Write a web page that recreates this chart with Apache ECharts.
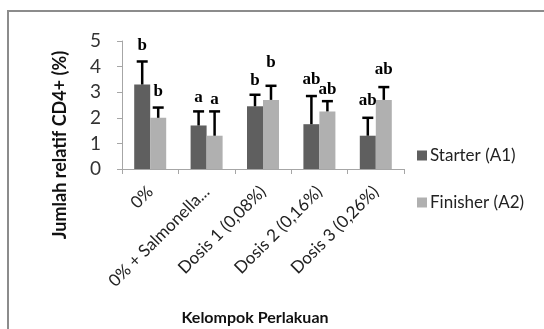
<!DOCTYPE html>
<html>
<head>
<meta charset="utf-8">
<script src="https://cdn.jsdelivr.net/npm/echarts@6/dist/echarts.min.js"></script>
<style>
  html, body { margin: 0; padding: 0; background: #fff; }
  #chart { width: 544px; height: 329px; }
</style>
</head>
<body>
<div id="chart"></div>
<script>
// Treatment groups on the x axis
const categories = ['0%', '0% + Salmonella...', 'Dosis 1 (0,08%)', 'Dosis 2 (0,16%)', 'Dosis 3 (0,26%)'];

// Relative CD4+ counts (%) and their standard deviations
const starterValues = [3.3, 1.7, 2.45, 1.75, 1.3];
const starterErrors = [0.9, 0.55, 0.45, 1.1, 0.7];
const finisherValues = [2.0, 1.3, 2.7, 2.25, 2.7];
const finisherErrors = [0.4, 0.95, 0.55, 0.4, 0.5];

// Significance letters above each bar
const starterLetters = ['b', 'a', 'b', 'ab', 'ab'];
const finisherLetters = ['b', 'a', 'b', 'ab', 'ab'];

// Y axis ticks
const yTicks = [0, 1, 2, 3, 4, 5];

// Pixel lift of each letter above its whisker cap
const starterLift = [7, 5, 6, 8, 9];
const finisherLift = [7, 3, 15, 3, 9];

const BAR_W = 16;
const DARK = '#5f5f5f';
const LIGHT = '#b0b0b0';
const FONT = 'Lato, "Open Sans", sans-serif';

function errorSeries(values, errors, letters, lift, side) {
  return {
    type: 'custom',
    z: 5,
    data: values.map((v, i) => [i, v, errors[i]]),
    renderItem: function (params, api) {
      const i = api.value(0);
      const base = api.coord([i, api.value(1)]);
      const top = api.coord([i, api.value(1) + api.value(2)]);
      const x = base[0] + side * BAR_W / 2;
      const half = 5.5;
      return {
        type: 'group',
        children: [
          { type: 'line', shape: { x1: x, y1: base[1], x2: x, y2: top[1] },
            style: { stroke: '#000', lineWidth: 2.5 } },
          { type: 'line', shape: { x1: x - half, y1: top[1], x2: x + half, y2: top[1] },
            style: { stroke: '#000', lineWidth: 2.5 } },
          { type: 'text', x: x, y: top[1] - lift[params.dataIndex],
            style: { text: letters[params.dataIndex], fill: '#000',
              font: 'bold 17px "Liberation Serif", "DejaVu Serif", serif',
              align: 'center', verticalAlign: 'bottom' } }
        ]
      };
    }
  };
}

const chart = echarts.init(document.getElementById('chart'));
chart.setOption({
  animation: false,
  grid: { left: 122, right: 140, top: 41, bottom: 160 },
  legend: {
    orient: 'vertical',
    left: 412,
    top: 142,
    itemWidth: 10,
    itemHeight: 10,
    itemGap: 30,
    icon: 'rect',
    textStyle: { fontFamily: FONT, fontSize: 17, color: '#222', padding: [0, 0, 0, -2] },
    data: ['Starter (A1)', 'Finisher (A2)']
  },
  xAxis: {
    type: 'category',
    data: categories,
    axisLine: { lineStyle: { color: '#a6a6a6', width: 1 } },
    axisTick: { show: true, length: 5, lineStyle: { color: '#a6a6a6' } },
    axisLabel: {
      rotate: 45, interval: 0, margin: 20,
      fontFamily: FONT, fontSize: 17, color: '#222'
    }
  },
  yAxis: {
    type: 'value',
    min: yTicks[0],
    max: yTicks[yTicks.length - 1],
    interval: 1,
    splitLine: { show: false },
    axisLine: { show: true, lineStyle: { color: '#a6a6a6', width: 1 } },
    axisTick: { show: true, length: 5, lineStyle: { color: '#a6a6a6' } },
    axisLabel: { margin: 21, fontFamily: FONT, fontSize: 19, color: '#333' }
  },
  series: [
    { name: 'Starter (A1)', type: 'bar', data: starterValues, barWidth: BAR_W, barGap: '0%',
      itemStyle: { color: DARK } },
    { name: 'Finisher (A2)', type: 'bar', data: finisherValues, barWidth: BAR_W, barGap: '0%',
      itemStyle: { color: LIGHT } },
    errorSeries(starterValues, starterErrors, starterLetters, starterLift, -1),
    errorSeries(finisherValues, finisherErrors, finisherLetters, finisherLift, 1)
  ],
  graphic: [
    { type: 'rect', shape: { x: 8, y: 11, width: 545, height: 330 },
      style: { fill: 'none', stroke: '#8c8c8c', lineWidth: 2 } },
    { type: 'text', x: 60, y: 145, rotation: Math.PI / 2,
      style: { text: 'Jumlah relatif CD4+ (%)', font: 'bold 18px ' + FONT, fill: '#111',
        align: 'center', verticalAlign: 'middle' } },
    { type: 'text', x: 255, y: 318,
      style: { text: 'Kelompok Perlakuan', font: 'bold 16px ' + FONT, fill: '#111',
        align: 'center', verticalAlign: 'middle' } }
  ]
});
</script>
</body>
</html>
